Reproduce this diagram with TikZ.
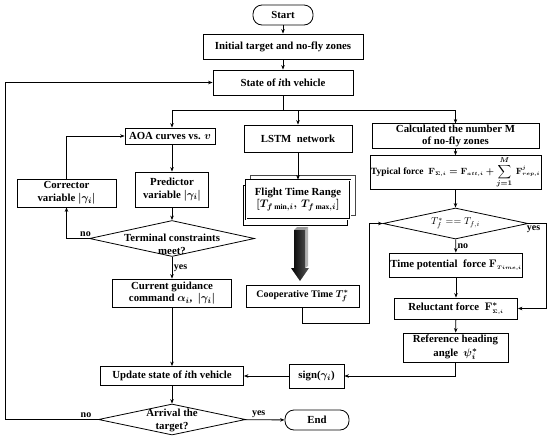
\documentclass[tikz,border=0pt]{standalone}
\usepackage{amsmath,amssymb}
\usepackage{fontspec}
\setmainfont{Liberation Serif}
\usetikzlibrary{arrows.meta,shapes.geometric,calc}
\tikzset{
  stdbox/.style={draw, rectangle, line width=0.8pt, inner sep=1pt, align=center, fill=white,
    font=\bfseries\boldmath\fontsize{10.8}{12.5}\selectfont},
  startend/.style={stdbox, rounded corners=9pt},
  decis/.style={draw, diamond, aspect=5, line width=0.8pt, inner sep=0pt},
  dtext/.style={inner sep=0pt, align=center, font=\bfseries\boldmath\fontsize{10.8}{13}\selectfont},
  lbl/.style={inner sep=1.5pt, font=\bfseries\fontsize{10}{11}\selectfont},
  arr/.style={-{Stealth[length=4.5pt,width=3.5pt]}, line width=0.8pt},
  ln/.style={line width=0.8pt},
  shbox/.style={draw=gray!55!black, line width=0.8pt, fill=white},
}
\newcommand{\ssub}[1]{{\scriptscriptstyle #1}}
\begin{document}
\begin{tikzpicture}[x=1pt,y=-1pt]
  \useasboundingbox (0,0) rectangle (550,440);
  % main column
  \node[startend, minimum width=60, minimum height=20] (start) at (283,15) {Start};
  \node[stdbox, minimum width=160, minimum height=25] (init) at (283,46.5) {Initial target and no-fly zones};
  \node[stdbox, minimum width=140, minimum height=25] (state) at (283,82.5) {State of \textit{i}th vehicle};
  \coordinate (sp) at (283,110);
  % left branch: predictor-corrector
  \node[stdbox, minimum width=90, minimum height=16] (aoa) at (170,136) {AOA curves vs. $v$};
  \node[stdbox, minimum width=73, minimum height=35] (pred) at (172,189.5) {Predictor\\variable $|\gamma_i|$};
  \node[stdbox, minimum width=99, minimum height=28] (corr) at (66.5,193) {Corrector\\variable $|\gamma_i|$};
  \node[decis, minimum width=165, minimum height=36] (tc) at (172,238.5) {};
  \node[dtext] (tct) at (172,244) {Terminal constraints\\meet?};
  \node[stdbox, minimum width=119, minimum height=28] (cur) at (172,293) {Current guidance\\command $\alpha_i$,\ \ $|\gamma_i|$};
  \node[stdbox, minimum width=143, minimum height=19] (upd) at (172,376) {Update state of \textit{i}th vehicle};
  \node[decis, minimum width=147, minimum height=31] (arrv) at (172,419.5) {};
  \node[dtext] (arrvt) at (172,420) {Arrival the\\target?};
  \node[startend, minimum width=64, minimum height=20] (fin) at (317,420) {End};
  % middle branch: LSTM
  \node[stdbox, minimum width=108, minimum height=27] (lstm) at (298,138.5) {LSTM\ \ network};
  \draw[shbox] (250,175) rectangle (355,215);
  \draw[shbox, draw=black] (243,185) rectangle (347,225);
  \node[stdbox, double, double distance=1pt, line width=0.6pt, minimum width=104, minimum height=39] (ftr) at (298,199.5) {Flight Time Range\\$[T_{f\min,i},\,T_{f\max,i}]$};
  \fill[gray!60] (305,230) -- (308,227) -- (308,266) -- (305,268) -- cycle;
  \fill[gray!80] (294,230) -- (297,227) -- (308,227) -- (305,230) -- cycle;
  \shade[left color=black, right color=gray!70!black] (294,230) -- (305,230) -- (305,268) -- (309,268)
    -- (300,281) -- (291,268) -- (294,268) -- cycle;
  \node[stdbox, font=\bfseries\boldmath\fontsize{10}{12}\selectfont, minimum width=113, minimum height=22] (coop) at (302.5,296) {Cooperative Time $T_f^{*}$};
  % right branch: potential field
  \node[stdbox, minimum width=167, minimum height=24] (calc) at (455.5,136) {Calculated the number M\\of no-fly zones};
  \node[stdbox, font=\bfseries\boldmath\fontsize{9.5}{11}\selectfont, minimum width=167, minimum height=31] (typ) at (455.5,172.5)
    {Typical force\ \ $\mathbf{F}_{\ssub{\Sigma,i}}=\mathbf{F}_{\ssub{att,i}}+\displaystyle\sum_{j=1}^{M}\,\mathbf{F}^{\ssub{j}}_{\ssub{rep,i}}$};
  \node[decis, minimum width=145, minimum height=31] (tdiam) at (455.5,223.5) {};
  \node[dtext, font=\fontsize{10}{11}\selectfont] (tdiamt) at (455.5,223.5) {$T_f^{*}==T_{f,i}$};
  \node[stdbox, minimum width=131, minimum height=24] (tpf) at (456,265) {Time potential\ \ force $\mathbf{F}_{\ssub{Time,i}}$};
  \node[stdbox, minimum width=123, minimum height=21] (rel) at (456,308.5) {Reluctant force\ \ $\mathbf{F}^{*}_{\ssub{\Sigma,i}}$};
  \node[stdbox, font=\bfseries\boldmath\fontsize{10.8}{14}\selectfont, minimum width=105, minimum height=29] (ref) at (455.5,347.5) {Reference heading\\angle\ \ $\psi_i^{*}$};
  \node[stdbox, minimum width=55, minimum height=24] (sgn) at (316.5,376) {sign($\gamma_i$)};
  % connectors
  \draw[arr] (start) -- (init);
  \draw[arr] (init) -- (state);
  \draw[ln] (state) -- (sp);
  \draw[arr] (sp) -| (pred.north |- aoa.north);
  \draw[arr] (sp) -| (calc);
  \draw[arr] (lstm.north |- sp) -- (lstm);
  \draw[arr] (aoa.south -| pred.north) -- (pred);
  \draw[arr] (pred) -- (tc);
  \draw[arr] (tc.west) -| node[lbl, pos=0.08, above] {no} (corr);
  \draw[arr] (corr) |- (aoa);
  \draw[arr] (tc) -- node[lbl, right] {yes} (cur);
  \draw[arr] (cur) -- (upd);
  \draw[arr] (upd) -- (arrv);
  \draw[arr] (arrv) -- node[lbl, pos=0.35, above] {yes} (fin);
  \draw[arr] (arrv.west) -- node[lbl, pos=0.13, above] {no} ++(-93,0) |- (state.west);
  \draw[arr] (lstm) -- (ftr);
  \draw[arr] (calc) -- (typ);
  \draw[arr] (typ) -- (tdiam);
  \draw[arr] (tdiam) -- node[lbl, right] {no} (tpf);
  \draw[arr] (tpf) -- (rel);
  \draw[arr] (tdiam.east) -| node[lbl, pos=0.15, below] {yes} ($(rel.east)+(28,0)$) -- (rel.east);
  \draw[arr] (rel) -- (ref);
  \draw[arr] (ref.south) |- (sgn.east);
  \draw[arr] (sgn) -- (upd);
  \draw[arr] (coop) |- ($(tdiam.west)+(-13,99.5)$) |- (tdiam.west);
\end{tikzpicture}
\end{document}
